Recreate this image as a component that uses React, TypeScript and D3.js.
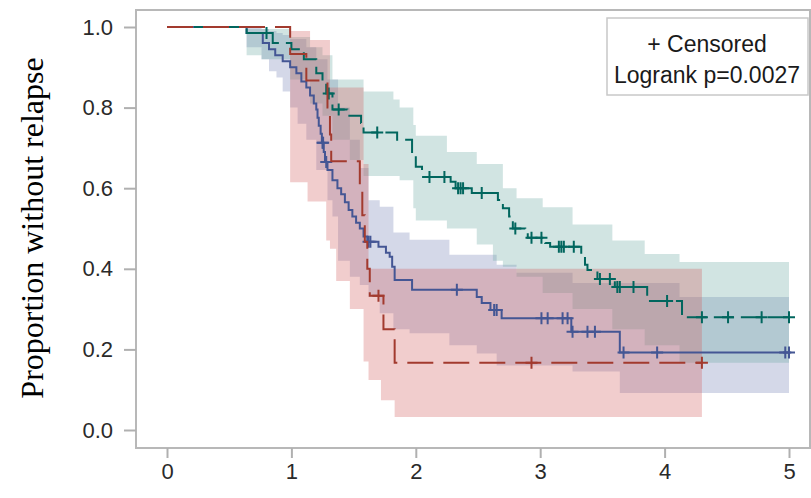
import React, { useEffect, useRef } from 'react';
import * as d3 from 'd3';

// Kaplan-Meier steps: time (years) and survival after that time
const greenTimes = [0, 0.64, 0.85, 1.0, 1.1, 1.2, 1.25, 1.28, 1.33, 1.45, 1.56, 1.58, 1.85, 1.97, 2.0, 2.05, 2.28, 2.32, 2.45, 2.66, 2.7, 2.75, 2.78, 2.88, 2.9, 3.04, 3.08, 3.33, 3.36, 3.38, 3.46, 3.6, 3.86, 4.14, 5.0];
const greenSurv = [1, 0.985, 0.96, 0.945, 0.92, 0.885, 0.86, 0.835, 0.795, 0.78, 0.762, 0.738, 0.72, 0.69, 0.653, 0.628, 0.616, 0.6, 0.588, 0.571, 0.55, 0.53, 0.5, 0.489, 0.477, 0.464, 0.455, 0.43, 0.41, 0.397, 0.375, 0.355, 0.32, 0.28, 0.28];
const greenCensored = [0.8, 1.3, 1.38, 1.69, 2.11, 2.23, 2.34, 2.36, 2.38, 2.53, 2.8, 2.93, 3.01, 3.15, 3.17, 3.19, 3.27, 3.48, 3.56, 3.62, 3.64, 3.75, 4.02, 4.3, 4.51, 4.78, 5.0];

const redTimes = [0, 0.99, 1.12, 1.29, 1.31, 1.32, 1.55, 1.57, 1.59, 1.61, 1.63, 1.74, 1.83, 4.3];
const redSurv = [1, 0.933, 0.867, 0.8, 0.733, 0.667, 0.6, 0.533, 0.467, 0.4, 0.333, 0.25, 0.167, 0.167];
const redCensored = [1.7, 2.93, 4.3];

const blueTimes = [0, 0.64, 0.77, 0.82, 0.87, 0.93, 0.99, 1.04, 1.08, 1.12, 1.15, 1.18, 1.2, 1.21, 1.22, 1.235, 1.245, 1.26, 1.27, 1.29, 1.33, 1.37, 1.4, 1.43, 1.46, 1.49, 1.52, 1.55, 1.58, 1.61, 1.7, 1.76, 1.79, 1.81, 1.83, 1.97, 2.49, 2.53, 2.6, 2.69, 3.25, 3.64, 5.0];
const blueSurv = [1, 0.985, 0.96, 0.945, 0.93, 0.915, 0.9, 0.885, 0.865, 0.85, 0.83, 0.81, 0.795, 0.775, 0.755, 0.735, 0.713, 0.69, 0.665, 0.645, 0.62, 0.6, 0.585, 0.565, 0.546, 0.53, 0.514, 0.5, 0.48, 0.467, 0.455, 0.44, 0.43, 0.405, 0.372, 0.348, 0.33, 0.315, 0.298, 0.277, 0.244, 0.192, 0.192];
const blueCensored = [1.25, 1.255, 1.28, 1.62, 1.635, 2.33, 2.63, 2.65, 3.01, 3.06, 3.18, 3.22, 3.26, 3.38, 3.44, 3.67, 3.94, 4.97, 5.0];

// Confidence bands (step after each time)
const greenBandTimes = [0.64, 0.76, 0.99, 1.15, 1.25, 1.33, 1.47, 1.58, 1.82, 1.87, 1.98, 2.0, 2.25, 2.49, 2.62, 2.7, 2.81, 3.02, 3.26, 3.58, 3.84, 4.12, 5.0];
const greenBandLo = [0.93, 0.92, 0.87, 0.81, 0.78, 0.72, 0.67, 0.63, 0.63, 0.62, 0.55, 0.52, 0.5, 0.46, 0.42, 0.405, 0.38, 0.34, 0.3, 0.25, 0.21, 0.167, 0.167];
const greenBandHi = [0.995, 0.995, 0.975, 0.95, 0.93, 0.87, 0.87, 0.84, 0.82, 0.8, 0.757, 0.73, 0.69, 0.66, 0.66, 0.6, 0.575, 0.553, 0.51, 0.47, 0.437, 0.417, 0.417];

const redBandTimes = [0.99, 1.13, 1.15, 1.28, 1.31, 1.36, 1.47, 1.58, 1.62, 1.72, 1.83, 4.3];
const redBandLo = [0.615, 0.567, 0.567, 0.47, 0.45, 0.37, 0.3, 0.17, 0.124, 0.074, 0.032, 0.032];
const redBandHi = [0.99, 0.99, 0.968, 0.968, 0.85, 0.85, 0.85, 0.66, 0.4, 0.4, 0.4, 0.4];

const blueBandTimes = [0.64, 0.76, 0.82, 0.88, 0.93, 0.99, 1.05, 1.12, 1.2, 1.29, 1.33, 1.375, 1.47, 1.55, 1.62, 1.71, 1.82, 1.95, 2.27, 2.49, 2.65, 2.81, 3.26, 3.64, 4.12, 5.0];
const blueBandLo = [0.95, 0.92, 0.89, 0.875, 0.84, 0.8, 0.76, 0.72, 0.645, 0.57, 0.53, 0.42, 0.38, 0.36, 0.33, 0.29, 0.25, 0.24, 0.21, 0.19, 0.16, 0.16, 0.145, 0.092, 0.092, 0.092];
const blueBandHi = [0.998, 0.995, 0.99, 0.985, 0.98, 0.97, 0.97, 0.95, 0.92, 0.87, 0.87, 0.8, 0.72, 0.65, 0.57, 0.554, 0.49, 0.472, 0.435, 0.435, 0.41, 0.39, 0.365, 0.365, 0.33, 0.33];

const xTicks = [0, 1, 2, 3, 4, 5];
const yTicks = [0, 0.2, 0.4, 0.6, 0.8, 1.0];
const legendLines = ['+ Censored', 'Logrank p=0.0027'];
const yTitle = 'Proportion without relapse';

const App = () => {
  const ref = useRef<SVGSVGElement>(null);

  useEffect(() => {
    const svg = d3.select(ref.current);
    svg.selectAll('*').remove();

    const frame = { left: 136, top: 10, right: 810, bottom: 448 };
    const sans = "'Liberation Sans', Arial, sans-serif";

    const x = d3.scaleLinear().domain([0, 5]).range([167, 789]);
    const y = d3.scaleLinear().domain([0, 1]).range([430, 27]);

    const groups = [
      { times: blueTimes, surv: blueSurv, cens: blueCensored, bt: blueBandTimes, lo: blueBandLo, hi: blueBandHi, line: '#445694', fill: '#6F7EB3', dash: null },
      { times: greenTimes, surv: greenSurv, cens: greenCensored, bt: greenBandTimes, lo: greenBandLo, hi: greenBandHi, line: '#01665E', fill: '#66A5A0', dash: '20 7' },
      { times: redTimes, surv: redSurv, cens: redCensored, bt: redBandTimes, lo: redBandLo, hi: redBandHi, line: '#A23A2E', fill: '#D05B5B', dash: '26 10' },
    ];

    // Bands
    const area = d3
      .area<number>()
      .curve(d3.curveStepAfter)
      .x((d) => d[0])
      .y0((d) => d[1])
      .y1((d) => d[2]);

    groups.forEach((g) => {
      const pts = g.bt.map((t, i) => [x(t), y(g.lo[i]), y(g.hi[i])]);
      svg
        .append('path')
        .attr('d', area(pts as any))
        .attr('fill', g.fill)
        .attr('fill-opacity', 0.3)
        .attr('stroke', 'none');
    });

    // Survival curves
    const line = d3
      .line<number[]>()
      .curve(d3.curveStepAfter)
      .x((d) => x(d[0]))
      .y((d) => y(d[1]));

    const survAt = (times: number[], surv: number[], t: number) => {
      const i = d3.bisectRight(times, t) - 1;
      return surv[Math.max(0, i)];
    };

    groups.forEach((g) => {
      svg
        .append('path')
        .attr('d', line(g.times.map((t, i) => [t, g.surv[i]])))
        .attr('fill', 'none')
        .attr('stroke', g.line)
        .attr('stroke-width', 2)
        .attr('stroke-dasharray', g.dash);

      const marks = svg.append('g');
      g.cens.forEach((t) => {
        const cx = x(t);
        const cy = y(survAt(g.times, g.surv, t));
        marks
          .append('path')
          .attr('d', `M${cx - 6},${cy}H${cx + 6}M${cx},${cy - 6}V${cy + 6}`)
          .attr('stroke', g.line)
          .attr('stroke-width', 2);
      });
    });

    // Frame
    svg
      .append('rect')
      .attr('x', frame.left)
      .attr('y', frame.top)
      .attr('width', frame.right - frame.left)
      .attr('height', frame.bottom - frame.top)
      .attr('fill', 'none')
      .attr('stroke', '#b8b8b8')
      .attr('stroke-width', 2);

    // Axes
    const yAxis = d3
      .axisLeft(y)
      .tickValues(yTicks)
      .tickFormat(d3.format('.1f'))
      .tickSizeInner(12)
      .tickSizeOuter(0)
      .tickPadding(11);

    const yAxisDraw = svg.append('g').attr('transform', `translate(${frame.left},0)`).call(yAxis);

    const xAxis = d3
      .axisBottom(x)
      .tickValues(xTicks)
      .tickFormat(d3.format('d'))
      .tickSizeInner(10)
      .tickSizeOuter(0)
      .tickPadding(5);

    const xAxisDraw = svg.append('g').attr('transform', `translate(0,${frame.bottom})`).call(xAxis);

    [yAxisDraw, xAxisDraw].forEach((a) => {
      a.select('.domain').remove();
      a.selectAll('line').attr('stroke', '#b0b0b0').attr('stroke-width', 2);
      a.selectAll('text').style('font-family', sans).style('font-size', '22px').attr('fill', '#2a2a2a');
    });

    // Y title
    svg
      .append('text')
      .attr('transform', 'translate(43,228) rotate(-90)')
      .attr('text-anchor', 'middle')
      .style('font-family', "'Liberation Serif', 'Times New Roman', serif")
      .style('font-size', '32px')
      .attr('fill', '#000')
      .text(yTitle);

    // Inset legend
    svg
      .append('rect')
      .attr('x', 607)
      .attr('y', 18)
      .attr('width', 201)
      .attr('height', 77)
      .attr('fill', '#fff')
      .attr('stroke', '#c8c8c8')
      .attr('stroke-width', 1.5);

    legendLines.forEach((s, i) => {
      svg
        .append('text')
        .attr('x', 707)
        .attr('y', 52 + i * 31)
        .attr('text-anchor', 'middle')
        .style('font-family', sans)
        .style('font-size', '23px')
        .attr('fill', '#1a1a1a')
        .text(s);
    });
  }, []);

  return (
    <svg
      ref={ref}
      width={811}
      height={498}
      style={{ position: 'absolute', left: 0, top: 0, background: '#fff' }}
    />
  );
};

export default App;
